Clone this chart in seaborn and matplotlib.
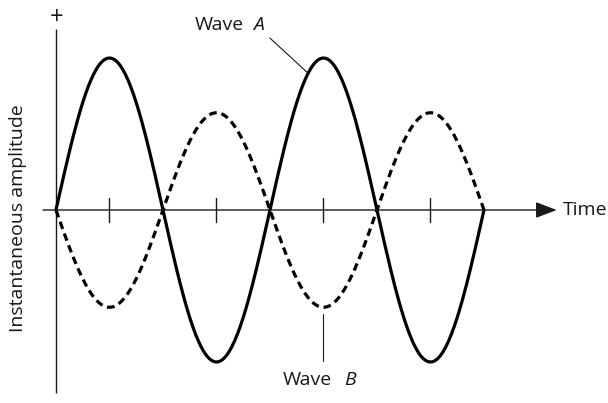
import numpy as np
import pandas as pd
import matplotlib
matplotlib.use("Agg")
import matplotlib.pyplot as plt
from matplotlib import font_manager as fm
import seaborn as sns

# ---- data (in half-period units of time, amplitude relative to wave A) ----
zero_crossings = [0, 1, 2, 3, 4]
tick_positions = [0.5, 1.5, 2.5, 3.5]
wave_a_peaks = [1.0, -1.0, 1.0, -1.0]
wave_b_peaks = [-0.64, 0.64, -0.64, 0.64]
axis_label_y = "Instantaneous amplitude"
axis_label_x = "Time"

sns.set_theme(style="white")
plt.rcParams["font.family"] = ["Open Sans", "DejaVu Sans"]


def find_font(fname_end, fallback_style, size=14):
    for f in fm.fontManager.ttflist:
        if f.fname.endswith(fname_end):
            return fm.FontProperties(fname=f.fname, size=size)
    return fm.FontProperties(family=["Open Sans", "DejaVu Sans"],
                             style=fallback_style, size=size)


fp_reg = find_font("OpenSans-Regular.ttf", "normal")
fp_it = find_font("OpenSans-Italic.ttf", "italic")
fp_plus = find_font("OpenSans-Regular.ttf", "normal", size=17)


def build_wave(peaks, name, samples=80):
    rows = []
    for i, pk in enumerate(peaks):
        t0, t1 = zero_crossings[i], zero_crossings[i + 1]
        for u in np.linspace(0, 1, samples):
            rows.append((t0 + (t1 - t0) * u, pk * np.sin(np.pi * u), name))
    return pd.DataFrame(rows, columns=["t", "amp", "wave"])


df_a = build_wave(wave_a_peaks, "A")
df_b = build_wave(wave_b_peaks, "B")

fig = plt.figure(figsize=(6.08, 4.03), dpi=100)
ax = fig.add_axes([0, 0, 1, 1])
ax.set_xlim(-0.523, 5.159)
ax.set_ylim(-1.270, 1.382)
ax.axis("off")

txt = "#1a1a1a"

# axes lines
ax.plot([0, 0], [-1.204, 1.191], color=txt, lw=1.0, solid_capstyle="butt")
ax.annotate("", xy=(4.68, 0), xytext=(-0.121, 0),
            arrowprops=dict(arrowstyle="-|>,head_length=1.0,head_width=0.38",
                            mutation_scale=13, color=txt, lw=1.0,
                            shrinkA=0, shrinkB=0))
for tp in tick_positions:
    ax.plot([tp, tp], [-0.08, 0.08], color=txt, lw=1.0)

# waves
sns.lineplot(data=df_b, x="t", y="amp", ax=ax, color="black", lw=2.3,
             linestyle=(0, (2.4, 1.5)), sort=False, legend=False)
sns.lineplot(data=df_a, x="t", y="amp", ax=ax, color="black", lw=2.3,
             sort=False, legend=False)

# texts
ax.text(0.01, 1.265, "+", ha="center", va="center", fontproperties=fp_plus,
        color=txt)
ax.text(-0.355, -0.053, axis_label_y, rotation=90, ha="center", va="center",
        fontproperties=fp_reg, color=txt)
ax.text(4.738, 0.0, axis_label_x, ha="left", va="center",
        fontproperties=fp_reg, color=txt)

# Wave A label + leader
ax.text(1.299, 1.217, "Wave", ha="left", va="center", fontproperties=fp_reg,
        color=txt)
ax.text(1.841, 1.217, "A", ha="left", va="center", fontproperties=fp_it,
        color=txt)
ax.plot([1.999, 2.355], [1.132, 0.901], color=txt, lw=0.8)

# Wave B label + leader
ax.text(2.121, -1.118, "Wave", ha="left", va="center", fontproperties=fp_reg,
        color=txt)
ax.text(2.692, -1.118, "B", ha="left", va="center", fontproperties=fp_it,
        color=txt)
ax.plot([2.5, 2.5], [-0.684, -0.993], color=txt, lw=0.8)

ax.set_xlabel("")
ax.set_ylabel("")
fig.savefig("out.png", dpi=100)
